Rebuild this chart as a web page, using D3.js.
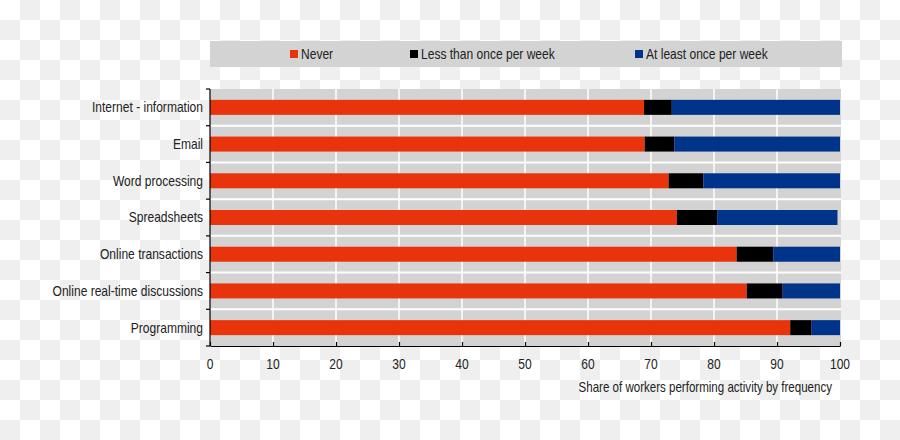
<!DOCTYPE html>
<html><head><meta charset="utf-8">
<script src="https://cdn.jsdelivr.net/npm/d3@7"></script>
<style>body{margin:0;background:#fff}svg{display:block}text{font-family:"Liberation Sans",Arial,sans-serif;fill:#222}</style>
</head><body><svg id="c" width="900" height="440"></svg>
<script>
const categories = ["Internet - information","Email","Word processing","Spreadsheets","Online transactions","Online real-time discussions","Programming"];
const seriesNames = ["Never","Less than once per week","At least once per week"];
const never = [68.9, 69.0, 72.8, 74.1, 83.6, 85.2, 92.1];
const lessThanWeekly = [4.4, 4.7, 5.5, 6.4, 5.8, 5.7, 3.4];
const atLeastWeekly = [26.7, 26.3, 21.7, 19.1, 10.6, 9.1, 4.5];
const xTicks = [0,10,20,30,40,50,60,70,80,90,100];
const axisTitle = "Share of workers performing activity by frequency";
const colors = ["#e8330c","#000000","#00338a"];

const svg = d3.select("#c");
const defs = svg.append("defs");
const pat = defs.append("pattern").attr("id","chk").attr("width",40).attr("height",40).attr("patternUnits","userSpaceOnUse");
pat.append("rect").attr("width",40).attr("height",40).attr("fill","#ffffff");
pat.append("rect").attr("x",20).attr("y",0).attr("width",20).attr("height",20).attr("fill","#efefef");
pat.append("rect").attr("x",0).attr("y",20).attr("width",20).attr("height",20).attr("fill","#efefef");
svg.append("rect").attr("width",900).attr("height",440).attr("fill","url(#chk)");

const SX = 0.86;
function ctext(parent, tx, ty, str, anchor, size, sx){
  return parent.append("text")
    .attr("transform",`translate(${tx},${ty}) scale(${sx||SX},1)`)
    .attr("text-anchor",anchor).attr("dy","0.35em").attr("font-size",size).text(str);
}

const m = {left:210, right:840, top:89, bottom:346};
const x = d3.scaleLinear().domain([0,100]).range([m.left, m.right]);
const y = d3.scaleBand().domain(categories).range([m.top, m.bottom]);

// plot background
svg.append("rect").attr("x",m.left).attr("y",m.top).attr("width",m.right-m.left+1).attr("height",m.bottom-m.top).attr("fill","#d3d3d3");
// vertical gridlines
svg.append("g").selectAll("line").data(xTicks.slice(1,-1)).join("line")
  .attr("x1",d=>x(d)).attr("x2",d=>x(d)).attr("y1",m.top).attr("y2",m.bottom)
  .attr("stroke","#fff").attr("stroke-width",1.5);
// horizontal band separators
svg.append("g").selectAll("line").data(categories.slice(1)).join("line")
  .attr("x1",m.left).attr("x2",m.right+1).attr("y1",d=>y(d)).attr("y2",d=>y(d))
  .attr("stroke","#fff").attr("stroke-width",2);

// stacked bars
const rows = categories.map((c,i)=>({cat:c, v:[never[i], lessThanWeekly[i], atLeastWeekly[i]]}));
const barH = 15;
rows.forEach(r=>{
  let acc = 0;
  r.v.forEach((v,j)=>{
    svg.append("rect").attr("x",x(acc)).attr("width",x(acc+v)-x(acc))
      .attr("y",y(r.cat)+y.bandwidth()/2-barH/2).attr("height",barH)
      .attr("fill",colors[j]);
    acc += v;
  });
});

// x axis
const xAxis = d3.axisBottom(x).tickValues(xTicks).tickSize(-4).tickSizeOuter(0).tickFormat("");
const gx = svg.append("g").attr("transform",`translate(0,${m.bottom})`).call(xAxis);
gx.select(".domain").attr("stroke","#000").attr("stroke-width",1.2);
gx.selectAll(".tick line").attr("stroke","#000").attr("stroke-width",1.2);
const gxl = svg.append("g");
xTicks.forEach(t=>ctext(gxl, x(t), 364, String(t), "middle", 14));

// y axis
const gy = svg.append("g").attr("transform",`translate(${m.left},0)`);
gy.append("line").attr("x1",0).attr("x2",0).attr("y1",m.top).attr("y2",m.bottom).attr("stroke","#000").attr("stroke-width",1.2);
gy.selectAll("line.t").data(categories.concat([null])).join("line").attr("class","t")
  .attr("x1",-4).attr("x2",0)
  .attr("y1",(d,i)=> i<categories.length ? y(d) : m.bottom)
  .attr("y2",(d,i)=> i<categories.length ? y(d) : m.bottom)
  .attr("stroke","#000").attr("stroke-width",1.2);
categories.forEach(c=>ctext(gy, -7, y(c)+y.bandwidth()/2, c, "end", 14));

ctext(svg, 832, 387, axisTitle, "end", 14, 0.825);

// legend
svg.append("rect").attr("x",210).attr("y",41).attr("width",632).attr("height",26).attr("fill","#d3d3d3");
const legX = [290, 410, 635];
seriesNames.forEach((s,i)=>{
  svg.append("rect").attr("x",legX[i]).attr("y",50).attr("width",8).attr("height",8).attr("fill",colors[i]);
  ctext(svg, legX[i]+11, 54, s, "start", 14);
});
</script></body></html>
